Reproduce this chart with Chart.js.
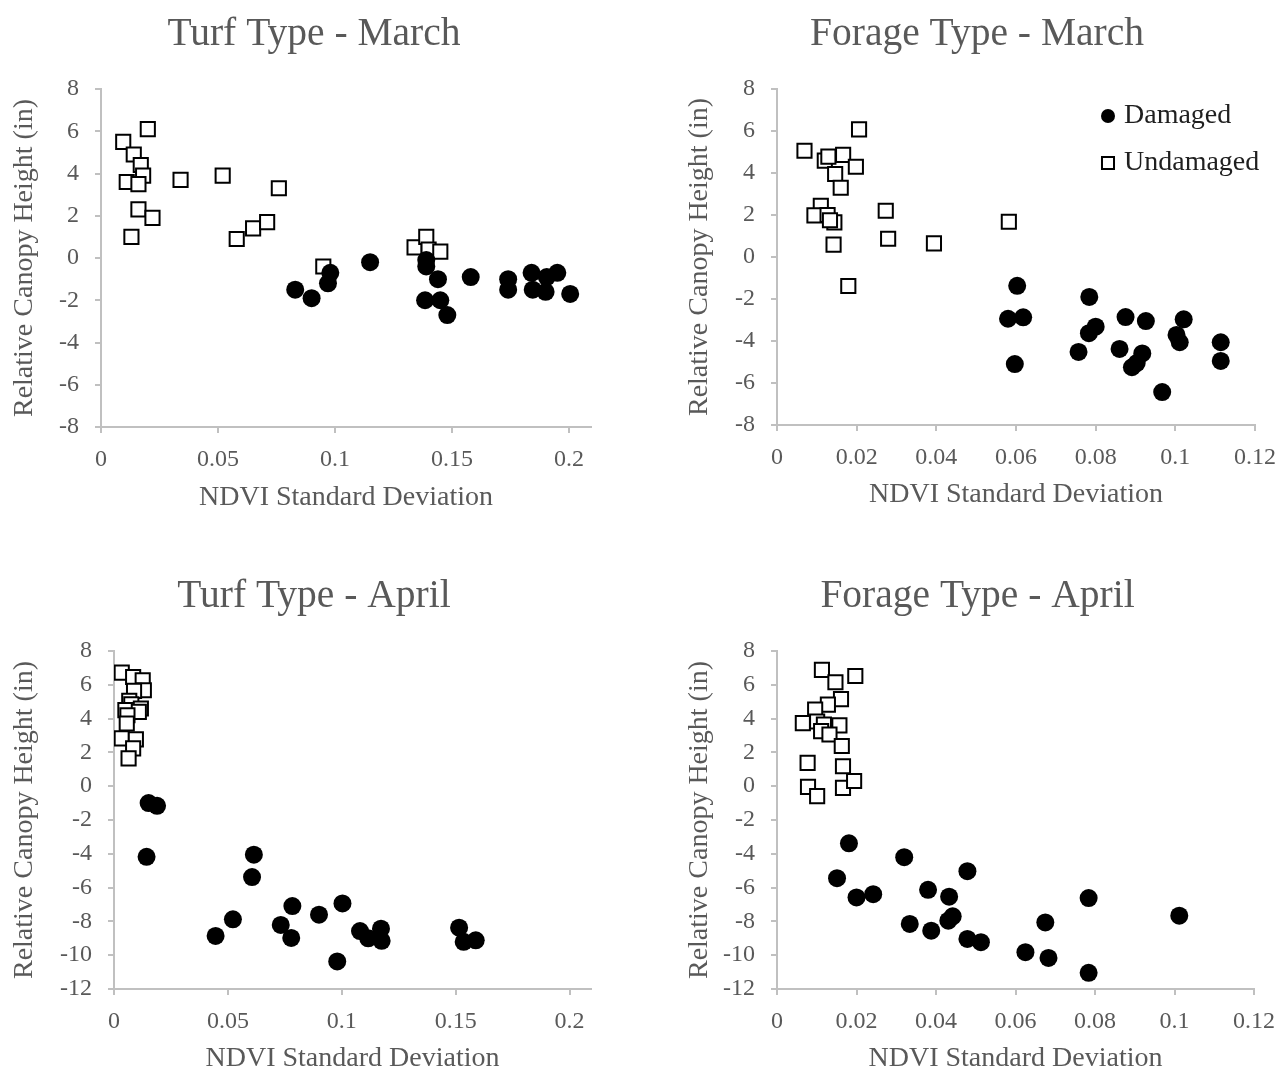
<!DOCTYPE html>
<html>
<head>
<meta charset="utf-8">
<title>Relative Canopy Height vs NDVI Standard Deviation</title>
<script src="https://cdn.jsdelivr.net/npm/chart.js@4.4.1/dist/chart.umd.min.js"></script>
<style>
    html, body { margin: 0; padding: 0; background: #fff; overflow: hidden; }
    .panel { position: absolute; }
</style>
</head>
<body>
<div class="panel" style="left:0;top:0;width:628px;height:530px"><canvas id="turfMarch"></canvas></div>
<div class="panel" style="left:672px;top:0;width:640px;height:530px"><canvas id="forageMarch"></canvas></div>
<div class="panel" style="left:0;top:560px;width:628px;height:530px"><canvas id="turfApril"></canvas></div>
<div class="panel" style="left:672px;top:560px;width:640px;height:530px"><canvas id="forageApril"></canvas></div>

<script>
// ===== Data =====

// Turf type - March
const turfMarUndX = [0.0095, 0.020, 0.014, 0.017, 0.018, 0.011, 0.016, 0.016, 0.022, 0.013, 0.034, 0.052, 0.076, 0.058, 0.065, 0.071, 0.095, 0.134, 0.139, 0.140, 0.145];
const turfMarUndY = [5.5, 6.1, 4.9, 4.4, 3.9, 3.6, 3.5, 2.3, 1.9, 1.0, 3.7, 3.9, 3.3, 0.9, 1.4, 1.7, -0.4, 0.5, 1.0, 0.4, 0.3];
const turfMarDamX = [0.083, 0.090, 0.097, 0.098, 0.115, 0.139, 0.139, 0.144, 0.1385, 0.145, 0.148, 0.158, 0.174, 0.174, 0.184, 0.1845, 0.1905, 0.190, 0.195, 0.2005];
const turfMarDamY = [-1.5, -1.9, -1.2, -0.7, -0.2, -0.1, -0.4, -1.0, -2.0, -2.0, -2.7, -0.9, -1.0, -1.5, -0.7, -1.5, -0.9, -1.6, -0.7, -1.7];

// Forage type - March
const forMarUndX = [0.0069, 0.0206, 0.012, 0.0129, 0.0166, 0.0198, 0.0146, 0.016, 0.011, 0.0094, 0.0127, 0.0144, 0.0133, 0.0142, 0.0179, 0.0273, 0.0279, 0.0394, 0.0582];
const forMarUndY = [5.06, 6.08, 4.59, 4.78, 4.86, 4.3, 3.95, 3.3, 2.44, 1.98, 2.0, 1.65, 1.75, 0.59, -1.38, 2.2, 0.87, 0.65, 1.68];
const forMarDamX = [0.0603, 0.058, 0.0618, 0.0597, 0.0784, 0.0783, 0.08, 0.0757, 0.0875, 0.0926, 0.086, 0.0917, 0.0891, 0.0903, 0.0967, 0.1021, 0.1003, 0.1011, 0.1114, 0.1114];
const forMarDamY = [-1.37, -2.94, -2.87, -5.1, -1.9, -3.63, -3.32, -4.52, -2.86, -3.05, -4.38, -4.59, -5.25, -5.05, -6.43, -2.97, -3.71, -4.06, -4.06, -4.95];

// Turf type - April
const turfAprUndX = [0.0034, 0.0084, 0.0126, 0.0131, 0.0088, 0.0067, 0.0076, 0.0118, 0.005, 0.0109, 0.0059, 0.0056, 0.0034, 0.0096, 0.0084, 0.0064];
const turfAprUndY = [6.72, 6.46, 6.27, 5.68, 5.64, 5.05, 4.85, 4.6, 4.5, 4.4, 4.2, 3.71, 2.83, 2.77, 2.24, 1.65];
const turfAprDamX = [0.0152, 0.0189, 0.0143, 0.0446, 0.0522, 0.0614, 0.0606, 0.0732, 0.0783, 0.0778, 0.09, 0.1003, 0.098, 0.108, 0.1116, 0.1172, 0.1175, 0.1515, 0.1535, 0.1588];
const turfAprDamY = [-1.0, -1.16, -4.18, -8.86, -7.88, -4.05, -5.38, -8.21, -7.09, -8.98, -7.6, -6.94, -10.37, -8.57, -9.0, -8.43, -9.15, -8.37, -9.21, -9.12];

// Forage type - April
const forAprUndX = [0.0113, 0.0197, 0.0147, 0.0161, 0.0128, 0.0096, 0.0065, 0.0101, 0.0118, 0.0157, 0.0111, 0.0132, 0.0163, 0.0077, 0.0166, 0.0078, 0.0101, 0.0166, 0.0194];
const forAprUndY = [6.88, 6.52, 6.15, 5.15, 4.83, 4.54, 3.73, 3.83, 3.65, 3.6, 3.26, 3.06, 2.38, 1.38, 1.18, -0.04, -0.59, -0.1, 0.31];
const forAprDamX = [0.0181, 0.0151, 0.02, 0.0242, 0.032, 0.0334, 0.038, 0.0388, 0.0433, 0.0431, 0.0442, 0.0479, 0.0479, 0.0513, 0.0625, 0.0675, 0.0683, 0.0784, 0.0784, 0.1012];
const forAprDamY = [-3.38, -5.44, -6.58, -6.39, -4.2, -8.15, -6.13, -8.55, -6.54, -7.96, -7.7, -5.03, -9.04, -9.23, -9.82, -8.06, -10.16, -6.62, -11.04, -7.66];

const seriesNames = ['Damaged', 'Undamaged'];
const xAxisTitle = 'NDVI Standard Deviation';
const yAxisTitle = 'Relative Canopy Height (in)';

// ===== Styling =====
const FONT = "'Liberation Serif', 'Times New Roman', serif";
const TEXT = '#595959';
const AXIS = '#c0c0c0';

function toPoints(xs, ys) {
    return xs.map((x, i) => ({ x: x, y: ys[i] }));
}

// chart title centred on the panel (not on the plot area)
const panelTitle = {
    id: 'panelTitle',
    afterDraw(chart, args, opts) {
        const ctx = chart.ctx;
        ctx.save();
        ctx.fillStyle = TEXT;
        ctx.font = '39.5px ' + FONT;
        ctx.textAlign = 'center';
        ctx.textBaseline = 'middle';
        ctx.fillText(opts.text, opts.x, opts.y);
        ctx.restore();
    }
};

// legend drawn inside the plot area (top right), only on the Forage - March panel
const insideLegend = {
    id: 'insideLegend',
    afterDraw(chart) {
        const ctx = chart.ctx;
        const area = chart.chartArea;
        const x = area.right - 147;
        const rows = [area.top + 27, area.top + 74];
        ctx.save();
        chart.data.datasets.forEach((ds, i) => {
            const y = rows[i];
            ctx.fillStyle = ds.backgroundColor;
            ctx.strokeStyle = ds.borderColor;
            ctx.lineWidth = ds.borderWidth;
            Chart.helpers.drawPoint(ctx, {
                pointStyle: ds.pointStyle,
                radius: ds.pointStyle === 'circle' ? 7 : 8.5,
                borderWidth: ds.borderWidth,
                rotation: 0
            }, x, y);
            ctx.fillStyle = '#1f1f1f';
            ctx.font = '28px ' + FONT;
            ctx.textAlign = 'left';
            ctx.textBaseline = 'middle';
            ctx.fillText(ds.label, x + 16, y);
        });
        ctx.restore();
    }
};

function buildChart(id, p) {
    const ctx = document.getElementById(id).getContext('2d');
    const extra = [panelTitle];
    if (p.legend) extra.push(insideLegend);

    return new Chart(ctx, {
        type: 'scatter',
        data: {
            datasets: [
                {
                    label: seriesNames[0],
                    data: toPoints(p.damX, p.damY),
                    pointStyle: 'circle',
                    pointRadius: 9,
                    pointHoverRadius: 9,
                    backgroundColor: '#000',
                    borderColor: '#000',
                    borderWidth: 0
                },
                {
                    label: seriesNames[1],
                    data: toPoints(p.undX, p.undY),
                    pointStyle: 'rect',
                    pointRadius: 10,
                    pointHoverRadius: 10,
                    backgroundColor: '#fff',
                    borderColor: '#000',
                    borderWidth: 2
                }
            ]
        },
        options: {
            responsive: true,
            maintainAspectRatio: false,
            animation: false,
            layout: { padding: { left: 0, right: p.padRight, top: p.padTop, bottom: 0 } },
            plugins: {
                legend: { display: false },
                tooltip: { enabled: false },
                title: { display: false },
                panelTitle: { text: p.title, x: p.titleX, y: p.titleY }
            },
            scales: {
                x: {
                    type: 'linear',
                    min: 0,
                    max: p.xMax,
                    afterFit: s => { s.height = p.xAxisHeight; },
                    ticks: {
                        stepSize: p.xStep,
                        includeBounds: false,
                        color: TEXT,
                        padding: 12,
                        maxRotation: 0,
                        font: { family: FONT, size: 24 },
                        callback: v => String(Number(v.toFixed(4)))
                    },
                    grid: { drawOnChartArea: false, tickLength: 6, color: AXIS, lineWidth: 2 },
                    border: { color: AXIS, width: 2 },
                    title: {
                        display: true,
                        text: xAxisTitle,
                        color: TEXT,
                        font: { family: FONT, size: 28 },
                        padding: { top: 0, bottom: p.xTitlePad }
                    }
                },
                y: {
                    min: p.yMin,
                    max: p.yMax,
                    afterFit: s => { s.width = p.yAxisWidth; },
                    ticks: {
                        stepSize: 2,
                        color: TEXT,
                        padding: 16,
                        font: { family: FONT, size: 24 }
                    },
                    grid: { drawOnChartArea: false, tickLength: 6, color: AXIS, lineWidth: 2 },
                    border: { color: AXIS, width: 2 },
                    title: {
                        display: true,
                        text: yAxisTitle,
                        color: TEXT,
                        font: { family: FONT, size: 28 },
                        padding: { top: p.yTitlePad, bottom: 0 }
                    }
                }
            }
        },
        plugins: extra
    });
}

buildChart('turfMarch', {
    title: 'Turf Type - March', titleX: 314, titleY: 35,
    damX: turfMarDamX, damY: turfMarDamY, undX: turfMarUndX, undY: turfMarUndY,
    xMax: 0.2094, xStep: 0.05, yMin: -8, yMax: 8,
    padTop: 89, padRight: 37, yAxisWidth: 101, xAxisHeight: 103,
    xTitlePad: 16, yTitlePad: 8
});

buildChart('forageMarch', {
    title: 'Forage Type - March', titleX: 305, titleY: 35,
    damX: forMarDamX, damY: forMarDamY, undX: forMarUndX, undY: forMarUndY,
    xMax: 0.12, xStep: 0.02, yMin: -8, yMax: 8,
    padTop: 89, padRight: 57, yAxisWidth: 105, xAxisHeight: 105,
    xTitlePad: 19, yTitlePad: 11,
    legend: true
});

buildChart('turfApril', {
    title: 'Turf Type - April', titleX: 314, titleY: 37,
    damX: turfAprDamX, damY: turfAprDamY, undX: turfAprUndX, undY: turfAprUndY,
    xMax: 0.2094, xStep: 0.05, yMin: -12, yMax: 8,
    padTop: 91, padRight: 37, yAxisWidth: 114, xAxisHeight: 101,
    xTitlePad: 15, yTitlePad: 8
});

buildChart('forageApril', {
    title: 'Forage Type - April', titleX: 305.5, titleY: 37,
    damX: forAprDamX, damY: forAprDamY, undX: forAprUndX, undY: forAprUndY,
    xMax: 0.12, xStep: 0.02, yMin: -12, yMax: 8,
    padTop: 91, padRight: 58, yAxisWidth: 105, xAxisHeight: 101,
    xTitlePad: 15, yTitlePad: 11
});
</script>
</body>
</html>
